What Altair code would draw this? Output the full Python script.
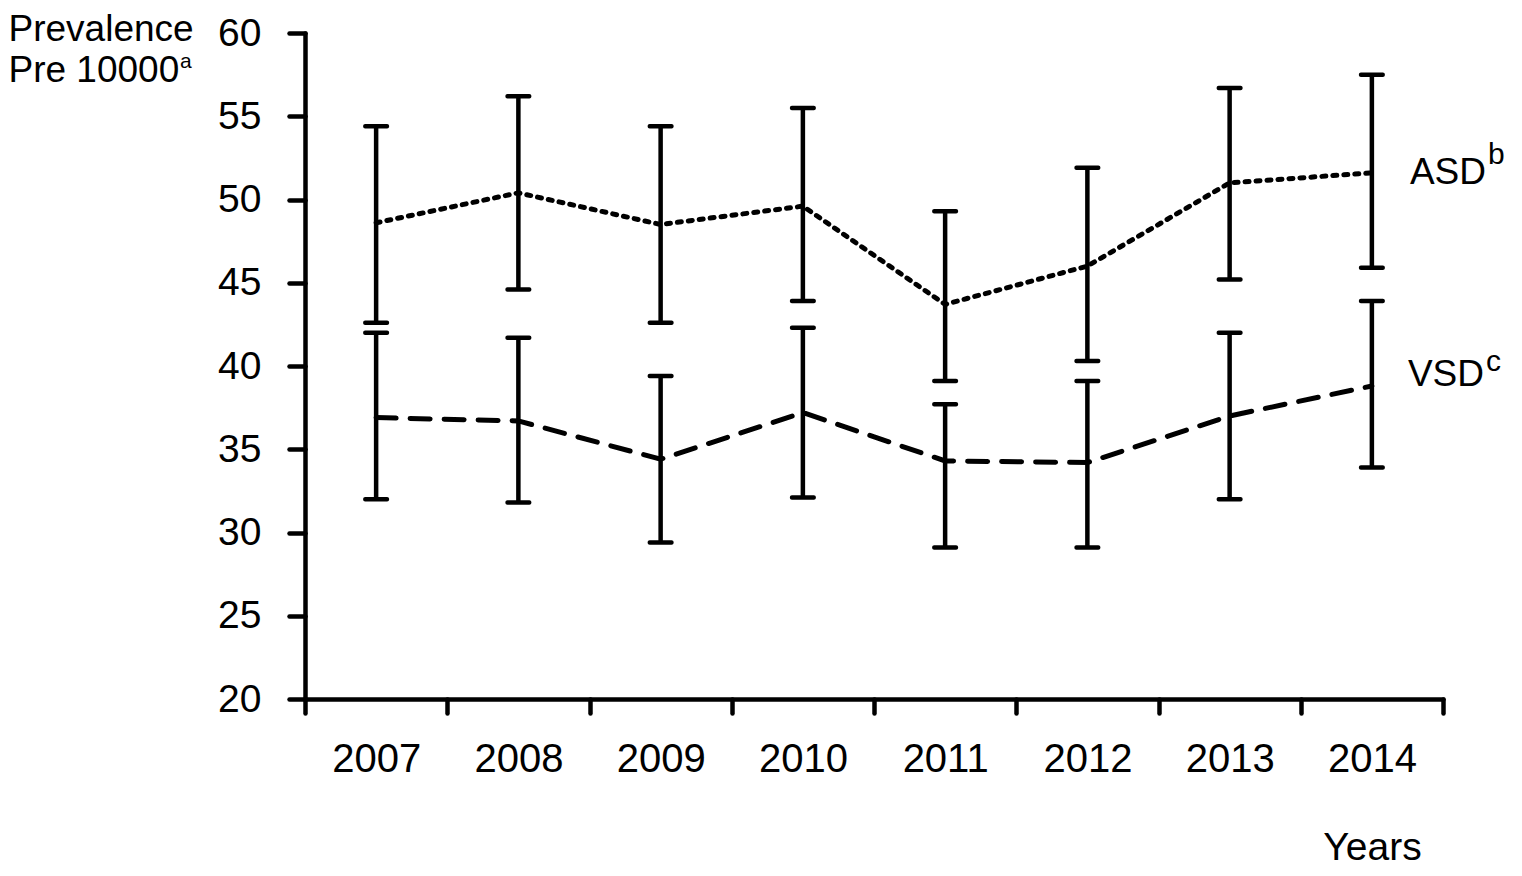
import altair as alt
import pandas as pd

years = ["2007", "2008", "2009", "2010", "2011", "2012", "2013", "2014"]
asd_mean = [48.6, 50.4, 48.5, 49.6, 43.7, 46.0, 51.0, 51.6]
asd_low = [42.6, 44.6, 42.6, 43.9, 39.1, 40.3, 45.2, 45.9]
asd_high = [54.4, 56.2, 54.4, 55.5, 49.3, 51.9, 56.7, 57.5]
vsd_mean = [36.9, 36.7, 34.4, 37.2, 34.3, 34.2, 37.0, 38.8]
vsd_low = [32.0, 31.8, 29.4, 32.1, 29.1, 29.1, 32.0, 33.9]
vsd_high = [42.0, 41.7, 39.4, 42.3, 37.7, 39.1, 42.0, 43.9]
y_ticks = [20, 25, 30, 35, 40, 45, 50, 55, 60]

rows = []
for i, yr in enumerate(years):
    rows.append({"year": yr, "series": "ASD", "mean": asd_mean[i], "lo": asd_low[i], "hi": asd_high[i]})
    rows.append({"year": yr, "series": "VSD", "mean": vsd_mean[i], "lo": vsd_low[i], "hi": vsd_high[i]})
df = pd.DataFrame(rows)

FONT = "Liberation Sans"

x_enc = alt.X(
    "year:N",
    sort=years,
    scale=alt.Scale(paddingInner=0, paddingOuter=0),
    axis=alt.Axis(
        title="Years",
        titleFontSize=39,
        titleFont=FONT,
        titleFontWeight="normal",
        titleColor="black",
        titleX=1067,
        titleY=160,
        titleAlign="center",
        titleBaseline="alphabetic",
        labelAngle=0,
        labelFontSize=40,
        labelFont=FONT,
        labelColor="black",
        labelBaseline="alphabetic",
        labelPadding=58,
        tickBand="extent",
        tickSize=14,
        tickWidth=4.5,
        tickColor="black",
        tickCap="round",
        domainWidth=4.5,
        domainColor="black",
        domainCap="round",
        grid=False,
    ),
)

y_scale = alt.Scale(domain=[20, 60], nice=False, zero=False)
y_axis = alt.Axis(
    values=y_ticks,
    title=["Prevalence", "Pre 10000"],
    titleAngle=0,
    titleAlign="left",
    titleBaseline="alphabetic",
    titleX=-297,
    titleY=7,
    titleLineHeight=41,
    titleFontSize=37,
    titleFont=FONT,
    titleFontWeight="normal",
    titleColor="black",
    labelFontSize=39,
    labelFont=FONT,
    labelColor="black",
    labelPadding=28,
    tickSize=16,
    tickWidth=4.5,
    tickColor="black",
    tickCap="round",
    domainWidth=4.5,
    domainColor="black",
    domainCap="round",
    grid=False,
)

base = alt.Chart(df).encode(x=x_enc)

rules = base.mark_rule(color="black", strokeWidth=4.5).encode(
    y=alt.Y("lo:Q", scale=y_scale, axis=y_axis),
    y2="hi:Q",
)
caps_lo = base.mark_tick(color="black", size=26, thickness=4.5, cornerRadius=2, opacity=1).encode(
    y=alt.Y("lo:Q", scale=y_scale, axis=y_axis)
)
caps_hi = base.mark_tick(color="black", size=26, thickness=4.5, cornerRadius=2, opacity=1).encode(
    y=alt.Y("hi:Q", scale=y_scale, axis=y_axis)
)
lines = base.mark_line(color="black", strokeWidth=5, strokeCap="round").encode(
    y=alt.Y("mean:Q", scale=y_scale, axis=y_axis),
    detail="series:N",
    strokeDash=alt.StrokeDash(
        "series:N",
        scale=alt.Scale(domain=["ASD", "VSD"], range=[[4, 7], [20, 14]]),
        legend=None,
    ),
)

last = alt.datum.year == "2014"
asd_last = base.transform_filter((alt.datum.series == "ASD") & last)
vsd_last = base.transform_filter((alt.datum.series == "VSD") & last)

asd_txt = asd_last.mark_text(
    font=FONT, fontSize=37, align="left", baseline="alphabetic", dx=38, dy=11, color="black"
).encode(y=alt.Y("mean:Q", scale=y_scale, axis=y_axis), text=alt.value("ASD"))
asd_sup = asd_last.mark_text(
    font=FONT, fontSize=30, align="left", baseline="alphabetic", dx=116, dy=-9, color="black"
).encode(y=alt.Y("mean:Q", scale=y_scale, axis=y_axis), text=alt.value("b"))
vsd_txt = vsd_last.mark_text(
    font=FONT, fontSize=37, align="left", baseline="alphabetic", dx=36, dy=0, color="black"
).encode(y=alt.Y("mean:Q", scale=y_scale, axis=y_axis), text=alt.value("VSD"))
vsd_sup = vsd_last.mark_text(
    font=FONT, fontSize=30, align="left", baseline="alphabetic", dx=114, dy=-15, color="black"
).encode(y=alt.Y("mean:Q", scale=y_scale, axis=y_axis), text=alt.value("c"))

title_sup = alt.Chart(pd.DataFrame({"t": ["a"]})).mark_text(
    font=FONT, fontSize=21, align="left", baseline="alphabetic", color="black"
).encode(x=alt.value(-125), y=alt.value(35), text="t:N")

chart = (
    alt.layer(rules, caps_lo, caps_hi, lines, asd_txt, asd_sup, vsd_txt, vsd_sup, title_sup)
    .properties(
        width=1138,
        height=666,
        background="white",
        autosize=alt.AutoSizeParams(type="none"),
        padding={"left": 297, "top": 25, "right": 70, "bottom": 169},
    )
    .configure_view(strokeWidth=0, stroke=None)
)

chart.save("out.html", embed_options={"renderer": "svg", "actions": False})
